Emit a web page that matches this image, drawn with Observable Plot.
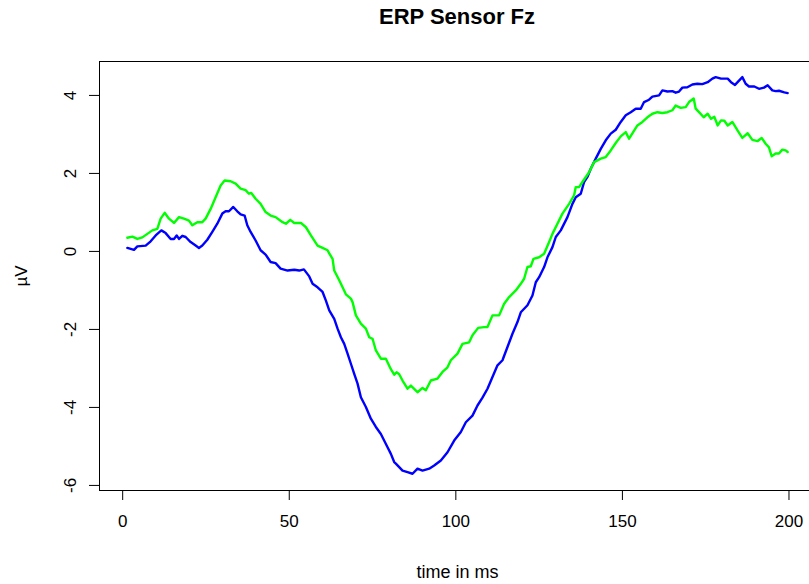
<!DOCTYPE html>
<html>
<head>
<meta charset="utf-8">
<script src="https://cdn.jsdelivr.net/npm/d3@7"></script>
<script src="https://cdn.jsdelivr.net/npm/@observablehq/plot@0.6"></script>
<style>
  html, body { margin: 0; padding: 0; background: #fff; overflow: hidden; }
  #wrap { position: relative; width: 809px; height: 584px; }
  #title { position: absolute; left: 99px; width: 716px; top: 4px; text-align: center;
           font-family: "Liberation Sans", Arial, sans-serif; font-weight: bold; font-size: 22px; color: #000; }
</style>
</head>
<body>
<div id="wrap"><div id="title">ERP Sensor Fz</div></div>
<script>
const titleText = "ERP Sensor Fz";
const xLabel = "time in ms";
const yLabel = "µV";
const xTicks = [0, 50, 100, 150, 200];
const yTicks = [-6, -4, -2, 0, 2, 4];

const blueTime = [1.4,3.4,4.4,6.9,8.4,9.9,11.6,12.9,14.4,15.4,16.2,16.9,17.9,18.9,20.4,21.9,22.9,23.9,25.4,26.9,28.4,29.9,30.9,31.9,33.2,34.4,35.4,36.6,37.4,38.4,39.9,41.4,42.9,44.4,45.9,47.4,49.5,51.5,53.0,54.4,56.0,57.0,58.5,60.0,61.0,62.0,63.5,64.5,65.5,66.5,67.5,68.5,69.5,70.5,71.5,73.0,74.5,76.0,77.5,79.5,80.5,81.5,82.0,84.0,85.5,87.0,88.5,90.0,92.0,93.5,95.5,97.5,99.5,101.5,103.0,105.0,106.5,108.0,109.5,111.0,112.5,114.0,115.5,117.0,118.5,119.5,121.5,123.0,124.0,125.0,126.5,127.5,129.0,130.0,131.5,133.5,135.0,136.0,137.5,138.5,139.5,140.5,142.0,143.5,145.0,146.5,148.0,149.5,151.0,152.5,154.0,155.5,156.5,158.0,159.0,161.0,162.0,163.5,165.0,166.0,167.0,168.0,169.5,171.0,172.5,174.0,175.6,177.0,178.0,179.6,181.6,182.6,183.8,185.0,186.0,187.0,188.0,189.6,191.0,192.5,193.6,195.0,196.0,197.0,198.6,199.6];
const blueUV = [0.09,0.04,0.13,0.15,0.26,0.41,0.54,0.47,0.32,0.32,0.41,0.32,0.40,0.37,0.24,0.15,0.09,0.15,0.30,0.50,0.71,0.97,1.03,1.03,1.14,1.03,0.95,0.92,0.67,0.50,0.28,0.03,-0.08,-0.27,-0.30,-0.44,-0.49,-0.47,-0.49,-0.46,-0.64,-0.83,-0.92,-1.04,-1.26,-1.51,-1.73,-1.98,-2.20,-2.37,-2.62,-2.88,-3.14,-3.39,-3.74,-3.99,-4.29,-4.50,-4.68,-5.02,-5.19,-5.40,-5.44,-5.62,-5.66,-5.70,-5.57,-5.62,-5.57,-5.49,-5.36,-5.15,-4.85,-4.63,-4.38,-4.21,-3.95,-3.75,-3.52,-3.22,-2.92,-2.79,-2.45,-2.11,-1.81,-1.56,-1.38,-1.13,-0.79,-0.66,-0.40,-0.15,0.11,0.37,0.54,0.88,1.22,1.39,1.48,1.78,1.91,2.12,2.38,2.63,2.85,3.02,3.12,3.32,3.49,3.57,3.66,3.66,3.83,3.89,3.97,4.00,4.13,4.10,4.11,4.07,4.10,4.20,4.21,4.28,4.30,4.29,4.34,4.43,4.47,4.43,4.43,4.34,4.27,4.38,4.47,4.30,4.23,4.23,4.17,4.20,4.26,4.13,4.11,4.12,4.08,4.06];

const greenTime = [1.4,2.9,4.4,5.9,7.4,8.9,10.4,11.4,12.6,13.9,15.4,16.9,18.4,19.9,20.9,22.4,23.9,24.9,26.4,27.9,29.4,30.6,32.4,33.9,35.4,36.9,37.9,38.6,39.9,41.4,42.9,44.4,45.9,48.0,49.0,50.3,51.5,53.5,55.0,56.5,58.5,60.0,61.5,62.0,63.0,63.5,65.0,66.0,67.0,68.5,69.0,70.0,71.5,73.0,74.0,75.0,76.0,77.5,79.0,80.5,81.5,82.2,83.0,84.0,85.5,86.5,88.5,90.0,91.0,92.5,94.5,96.0,97.5,98.5,100.5,102.0,104.0,105.0,106.7,108.5,109.5,111.0,113.0,114.5,116.0,118.0,119.5,120.5,121.5,122.5,123.3,125.0,126.5,128.0,129.0,130.5,132.0,134.0,135.5,136.0,137.0,138.0,140.0,141.5,143.5,145.0,146.5,148.0,149.5,151.0,152.0,153.0,154.5,156.0,157.5,159.0,160.5,162.0,163.5,165.0,166.0,167.5,169.0,170.0,171.4,172.0,173.0,174.4,175.6,176.6,177.6,178.6,179.6,180.6,181.6,183.0,184.6,186.0,187.6,189.0,190.6,191.8,193.0,194.0,194.8,196.0,197.0,198.0,199.0,199.6];
const greenUV = [0.35,0.38,0.32,0.36,0.45,0.54,0.58,0.84,0.99,0.84,0.73,0.88,0.84,0.79,0.67,0.75,0.75,0.84,1.09,1.39,1.69,1.82,1.80,1.74,1.61,1.57,1.48,1.50,1.35,1.22,1.01,0.92,0.88,0.75,0.71,0.81,0.73,0.73,0.62,0.41,0.15,0.09,0.03,-0.05,-0.19,-0.49,-0.74,-0.92,-1.10,-1.21,-1.30,-1.64,-1.85,-1.98,-2.20,-2.24,-2.54,-2.75,-2.75,-3.02,-3.16,-3.10,-3.15,-3.31,-3.52,-3.44,-3.61,-3.50,-3.56,-3.31,-3.26,-3.09,-2.97,-2.79,-2.62,-2.37,-2.33,-2.15,-1.96,-1.94,-1.94,-1.64,-1.64,-1.34,-1.17,-1.00,-0.83,-0.70,-0.40,-0.38,-0.19,-0.15,-0.06,0.24,0.45,0.71,0.97,1.22,1.44,1.65,1.65,1.78,2.03,2.29,2.38,2.42,2.59,2.78,2.95,3.06,2.89,3.03,3.23,3.32,3.44,3.53,3.57,3.55,3.57,3.62,3.74,3.68,3.70,3.83,3.92,3.66,3.57,3.44,3.53,3.40,3.45,3.23,3.36,3.35,3.23,3.32,3.10,2.91,3.03,2.86,2.83,2.91,2.76,2.67,2.44,2.51,2.51,2.61,2.59,2.55];

const blue = blueTime.map((t, i) => ({t, v: blueUV[i]}));
const green = greenTime.map((t, i) => ({t, v: greenUV[i]}));

document.getElementById("title").textContent = titleText;

const chart = Plot.plot({
  width: 809,
  height: 584,
  marginLeft: 99,
  marginRight: -6,
  marginTop: 61,
  marginBottom: 94,
  style: {fontFamily: "'Liberation Sans', Arial, sans-serif", fontSize: "17px", background: "transparent", color: "#000", overflow: "visible"},
  x: {domain: [-6.96, 207.96]},
  y: {domain: [-6.13, 4.87]},
  marks: [
    Plot.frame({stroke: "#000", strokeWidth: 1}),
    Plot.axisX(xTicks, {tickSize: 10, tickPadding: 14, tickFormat: d => String(d), label: null, fontSize: 17}),
    Plot.axisX(xTicks, {tickSize: 0, text: null, label: xLabel, labelAnchor: "center", labelOffset: 87, labelArrow: "none", fontSize: 18}),
    Plot.axisY(yTicks, {tickSize: 10, tickPadding: 14, tickRotate: -90, tickFormat: d => String(d), label: yLabel, labelAnchor: "center", labelOffset: 85, labelArrow: "none", fontSize: 17}),
    Plot.line(blue, {x: "t", y: "v", stroke: "#0000ff", strokeWidth: 2.4}),
    Plot.line(green, {x: "t", y: "v", stroke: "#00ff00", strokeWidth: 2.4})
  ]
});
chart.style.position = "absolute";
chart.style.left = "0";
chart.style.top = "0";
document.getElementById("wrap").appendChild(chart);
</script>
</body>
</html>
